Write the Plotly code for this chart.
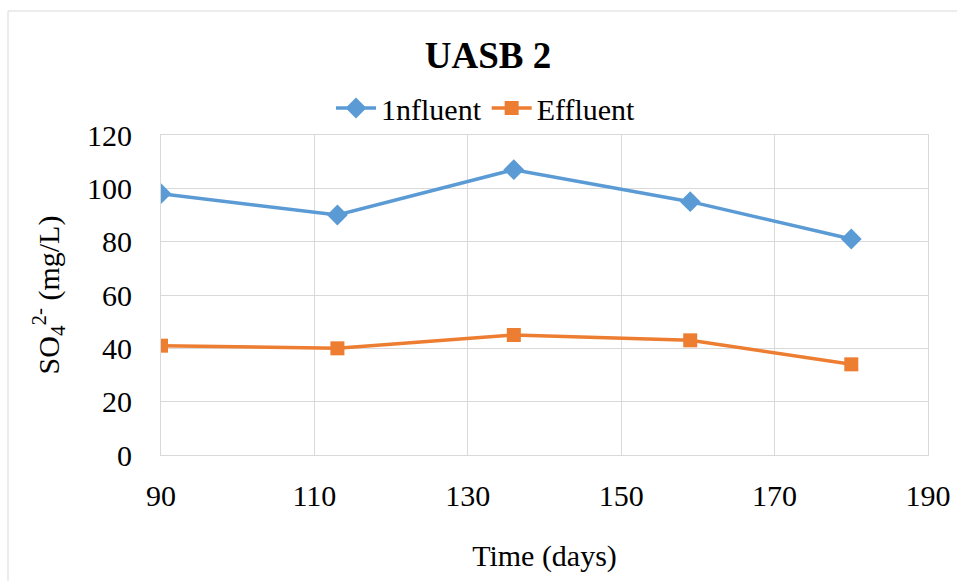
import plotly.graph_objects as go

days = [90, 113, 136, 159, 180]
influent = [98, 90, 107, 95, 81]
effluent = [41, 40, 45, 43, 34]
x_ticks = [90, 110, 130, 150, 170, 190]
y_ticks = [0, 20, 40, 60, 80, 100, 120]

W, H = 957, 581
L, R, T, B = 161, 29, 135, 126
pw, ph = W - L - R, H - T - B

fig = go.Figure()
fig.add_trace(go.Scatter(x=days, y=influent, name="1nfluent", mode="lines+markers",
                         line=dict(color="#5B9BD5", width=3.5),
                         marker=dict(symbol="diamond", size=16, color="#5B9BD5")))
fig.add_trace(go.Scatter(x=days, y=effluent, name="Effluent", mode="lines+markers",
                         line=dict(color="#ED7D31", width=3.5),
                         marker=dict(symbol="square", size=14, color="#ED7D31")))

font = "Liberation Serif, Times New Roman, serif"
fig.update_layout(
    width=W, height=H,
    margin=dict(l=L, r=R, t=T, b=B, autoexpand=False),
    paper_bgcolor="white", plot_bgcolor="white",
    font=dict(family=font, size=30, color="black"),
    title=dict(text="<b>UASB 2</b>", x=488 / W, xanchor="center", y=1 - 55 / H, yanchor="middle",
               xref="container", yref="container", font=dict(size=37, family=font)),
    legend=dict(orientation="h", x=(486 - L) / pw, xanchor="center", y=(H - B - 108) / ph,
                yanchor="middle", font=dict(size=30), itemwidth=40, bgcolor="rgba(0,0,0,0)"),
    showlegend=True,
)
fig.update_xaxes(range=[90, 190], tickvals=x_ticks, showgrid=True, gridcolor="#D9D9D9", gridwidth=1,
                 showline=True, linecolor="#D9D9D9", mirror=True, zeroline=False, automargin=False,
                 ticks="", ticklabelstandoff=14, tickfont=dict(size=30),
                 title=dict(text="Time (days)", standoff=33, font=dict(size=30)))
fig.update_yaxes(range=[0, 120], tickvals=y_ticks, showgrid=True, gridcolor="#D9D9D9", gridwidth=1,
                 showline=True, linecolor="#D9D9D9", mirror=True, zeroline=False, automargin=False,
                 ticks="", ticklabelstandoff=22, tickfont=dict(size=30),
                 title=dict(text="SO<sub>4</sub><sup>2-</sup> (mg/L)", standoff=18, font=dict(size=30)))

# outer chart frame
fig.add_shape(type="rect", xref="paper", yref="paper",
              x0=(8 - L) / pw, x1=(W + 5 - L) / pw,
              y0=(H - B - (H + 5)) / ph, y1=(H - B - 11) / ph,
              line=dict(color="#D9D9D9", width=1), fillcolor="rgba(0,0,0,0)", layer="below")

fig.write_html("out.html")
